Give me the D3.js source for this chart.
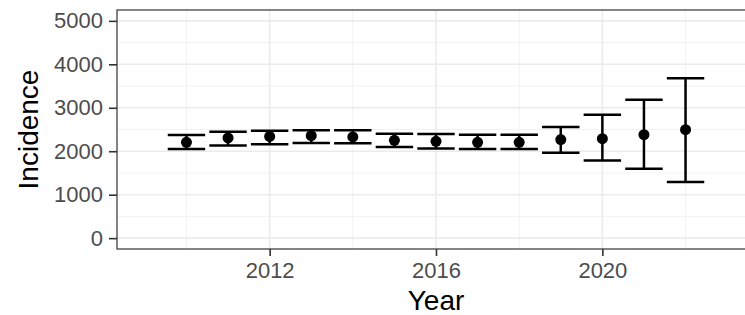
<!DOCTYPE html>
<html>
<head>
<meta charset="utf-8">
<script src="https://cdn.jsdelivr.net/npm/d3@7"></script>
<style>
  body { margin: 0; background: #fff; overflow: hidden; }
  svg { display: block; font-family: "Liberation Sans", Arial, sans-serif; }
</style>
</head>
<body>
<div id="chart"></div>
<script>
// values
var years = [2010, 2011, 2012, 2013, 2014, 2015, 2016, 2017, 2018, 2019, 2020, 2021, 2022];
var incidence = [2205, 2305, 2340, 2358, 2330, 2252, 2229, 2206, 2205, 2268, 2290, 2382, 2497];
var lower = [2054, 2130, 2160, 2190, 2183, 2100, 2061, 2054, 2050, 1963, 1786, 1596, 1290];
var upper = [2375, 2451, 2474, 2480, 2480, 2405, 2398, 2382, 2380, 2558, 2840, 3184, 3681];
var xTicks = [2012, 2016, 2020];
var xMinor = [2010, 2014, 2018, 2022];
var yTicks = [0, 1000, 2000, 3000, 4000, 5000];
var yMinor = [500, 1500, 2500, 3500, 4500];

var W = 745, H = 315;
// panel edges (window.top is read-only, hence pTop etc.)
// the reference is cropped on the right, panel runs past the edge
var pLeft = 117, pRight = 755, pTop = 10, pBottom = 249;

var data = years.map(function (y, i) {
    return { year: y, val: incidence[i], lo: lower[i], hi: upper[i] };
});

var x = d3.scaleLinear().domain([2008.33, 2023.67]).range([pLeft, pRight]);
var y = d3.scaleLinear().domain([-250, 5250]).range([pBottom, pTop]);

var svg = d3.select("#chart").append("svg")
    .attr("width", W)
    .attr("height", H);

// grid
var grid = svg.append("g");
grid.selectAll("line.ymin").data(yMinor).enter().append("line")
    .attr("x1", pLeft).attr("x2", pRight)
    .attr("y1", function (d) { return y(d); })
    .attr("y2", function (d) { return y(d); })
    .attr("stroke", "#f2f2f2").attr("stroke-width", 1);
grid.selectAll("line.xmin").data(xMinor).enter().append("line")
    .attr("y1", pTop).attr("y2", pBottom)
    .attr("x1", function (d) { return x(d); })
    .attr("x2", function (d) { return x(d); })
    .attr("stroke", "#f2f2f2").attr("stroke-width", 1);
grid.selectAll("line.ymaj").data(yTicks).enter().append("line")
    .attr("x1", pLeft).attr("x2", pRight)
    .attr("y1", function (d) { return y(d); })
    .attr("y2", function (d) { return y(d); })
    .attr("stroke", "#ebebeb").attr("stroke-width", 1.6);
grid.selectAll("line.xmaj").data(xTicks).enter().append("line")
    .attr("y1", pTop).attr("y2", pBottom)
    .attr("x1", function (d) { return x(d); })
    .attr("x2", function (d) { return x(d); })
    .attr("stroke", "#ebebeb").attr("stroke-width", 1.6);

// error bars
var halfW = 0.45;
var bars = svg.append("g").attr("stroke", "#000").attr("stroke-width", 2.5);
bars.selectAll("line.v").data(data).enter().append("line")
    .attr("x1", function (d) { return x(d.year); })
    .attr("x2", function (d) { return x(d.year); })
    .attr("y1", function (d) { return y(d.lo); })
    .attr("y2", function (d) { return y(d.hi); });
bars.selectAll("line.hi").data(data).enter().append("line")
    .attr("x1", function (d) { return x(d.year - halfW); })
    .attr("x2", function (d) { return x(d.year + halfW); })
    .attr("y1", function (d) { return y(d.hi); })
    .attr("y2", function (d) { return y(d.hi); });
bars.selectAll("line.lo").data(data).enter().append("line")
    .attr("x1", function (d) { return x(d.year - halfW); })
    .attr("x2", function (d) { return x(d.year + halfW); })
    .attr("y1", function (d) { return y(d.lo); })
    .attr("y2", function (d) { return y(d.lo); });

svg.append("g").selectAll("circle").data(data).enter().append("circle")
    .attr("cx", function (d) { return x(d.year); })
    .attr("cy", function (d) { return y(d.val); })
    .attr("r", 5.5)
    .attr("fill", "#000");

// panel border
svg.append("rect")
    .attr("x", pLeft).attr("y", pTop)
    .attr("width", pRight - pLeft).attr("height", pBottom - pTop)
    .attr("fill", "none").attr("stroke", "#333").attr("stroke-width", 1.2);

// axes
var xAxis = svg.append("g")
    .attr("transform", "translate(0," + pBottom + ")")
    .call(d3.axisBottom(x).tickValues(xTicks).tickFormat(d3.format("d")).tickSize(7).tickPadding(6));
var yAxis = svg.append("g")
    .attr("transform", "translate(" + pLeft + ",0)")
    .call(d3.axisLeft(y).tickValues(yTicks).tickFormat(d3.format("d")).tickSize(8).tickPadding(6));

[xAxis, yAxis].forEach(function (a) {
    a.select(".domain").remove();
    a.selectAll(".tick line").attr("stroke", "#333").attr("stroke-width", 1.6);
    a.selectAll(".tick text")
        .attr("fill", "#4d4d4d")
        .style("font-size", "22px")
        .style("font-family", "'Liberation Sans', Arial, sans-serif");
});

svg.append("text")
    .attr("x", (pLeft + pRight) / 2)
    .attr("y", 310)
    .attr("text-anchor", "middle")
    .style("font-size", "28px")
    .text("Year");

svg.append("text")
    .attr("transform", "translate(38," + (pTop + pBottom) / 2 + ") rotate(-90)")
    .attr("text-anchor", "middle")
    .style("font-size", "28px")
    .text("Incidence");
</script>
</body>
</html>
